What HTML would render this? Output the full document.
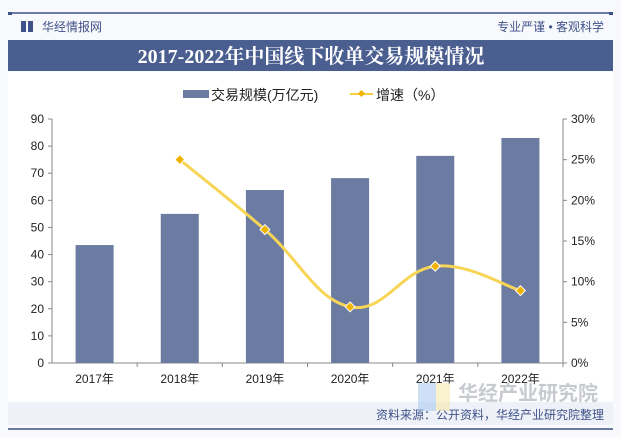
<!DOCTYPE html>
<html><head><meta charset="utf-8"><style>
body{margin:0;width:621px;height:437px;overflow:hidden;background:#fff;font-family:"Liberation Sans","Noto Sans CJK SC",sans-serif;}
</style></head><body>
<svg width="621" height="437" viewBox="0 0 621 437" xmlns="http://www.w3.org/2000/svg" font-family="Liberation Sans, Noto Sans CJK SC, sans-serif">
<rect x="0" y="0" width="621" height="437" fill="#f8f9fc"/>
<line x1="8" y1="13" x2="613" y2="13" stroke="#3f5189" stroke-width="1.5"/>
<rect x="8" y="12" width="4" height="3" fill="#3f5189"/><rect x="609" y="12" width="4" height="3" fill="#3f5189"/>
<g><rect x="21" y="21" width="5" height="11" fill="#3f5189"/><rect x="28" y="21" width="5" height="11" fill="#3f5189"/></g>
<text x="42" y="31" font-size="12" fill="#3f5189">华经情报网</text>
<text x="604" y="31" font-size="12" fill="#3f5189" text-anchor="end">专业严谨 • 客观科学</text>
<rect x="8" y="40" width="605" height="31" fill="#4a5e8f"/>
<text x="311" y="63" font-size="20" font-weight="bold" fill="#fff" text-anchor="middle" font-family="Liberation Serif, Noto Serif CJK SC, serif">2017-2022年中国线下收单交易规模情况</text>
<rect x="8" y="72" width="605" height="330" fill="#fff"/>
<g>
<rect x="183" y="90" width="26" height="8" fill="#6b7ba1"/>
<text x="211" y="100" font-size="14" fill="#222">交易规模(万亿元)</text>
<line x1="350" y1="94" x2="373" y2="94" stroke="#f5cf3e" stroke-width="2"/>
<rect x="359" y="91" width="5" height="5" fill="#f0b400" transform="rotate(45 361.5 93.5)"/>
<text x="376" y="100" font-size="14" fill="#222">增速（%）</text>
</g>
<g id="chart"></g>
<rect x="8" y="402" width="605" height="23" fill="#eef1f7"/>
<text x="604" y="419" font-size="12" fill="#3f5189" text-anchor="end">资料来源：公开资料，华经产业研究院整理</text>
<line x1="8" y1="429" x2="613" y2="429" stroke="#3f5189" stroke-width="1.5"/>
<g opacity="0.55">
<rect x="418" y="383" width="18" height="28" fill="#a9c8f0"/><rect x="436" y="383" width="14" height="28" fill="#f7e9a8"/>
<text x="458" y="400" font-size="20" font-weight="bold" fill="#9aa0a8">华经产业研究院</text>
</g>
</svg>
<script>
const categories=["2017年","2018年","2019年","2020年","2021年","2022年"];
const scaleValues=[43.5,55,63.8,68.2,76.4,83];
const growthValues=[null,25,16.4,6.9,11.9,8.9];
const leftTicks=[0,10,20,30,40,50,60,70,80,90];
const rightTicks=["0%","5%","10%","15%","20%","25%","30%"];
const NS="http://www.w3.org/2000/svg";
const g=document.getElementById("chart");
const X0=52,X1=563,Y0=363,Y1=119;
const band=(X1-X0)/categories.length;
const xc=i=>X0+band*(i+0.5);
const yL=v=>Y0-(v/90)*(Y0-Y1);
const yR=v=>Y0-(v/30)*(Y0-Y1);
function mk(t,a){const e=document.createElementNS(NS,t);for(const k in a)e.setAttribute(k,a[k]);g.appendChild(e);return e;}
let e;
e=mk("line",{x1:X0,y1:Y1,x2:X0,y2:Y0,stroke:"#888"});


e=mk("line",{x1:X1,y1:Y1,x2:X1,y2:Y0,stroke:"#888"});


e=mk("line",{x1:X0,y1:Y0,x2:X1,y2:Y0,stroke:"#888"});


leftTicks.forEach(v=>{const y=yL(v);
mk("line",{x1:X0-4,y1:y,x2:X0,y2:y,stroke:"#888"});
e=mk("text",{x:X0-8,y:y+4,"font-size":12,fill:"#222","text-anchor":"end"});e.textContent=v;

});
rightTicks.forEach((t,i)=>{const y=yR(i*5);
mk("line",{x1:X1,y1:y,x2:X1+4,y2:y,stroke:"#888"});
e=mk("text",{x:X1+8,y:y+4,"font-size":12,fill:"#222"});e.textContent=t;

});
categories.forEach((c,i)=>{
mk("line",{x1:X0+band*(i+1),y1:Y0,x2:X0+band*(i+1),y2:Y0+4,stroke:"#888"});
e=mk("text",{x:xc(i),y:Y0+20,"font-size":12,fill:"#222","text-anchor":"middle"});e.textContent=c;


const y=yL(scaleValues[i]);
e=mk("rect",{x:xc(i)-19,y:y,width:38,height:Y0-y,fill:"#6b7ba1"});

});
const pts=[];growthValues.forEach((v,i)=>{if(v!=null)pts.push([xc(i),yR(v)]);});
let d="M"+pts[0][0]+","+pts[0][1];
for(let i=0;i<pts.length-1;i++){const p0=pts[i-1]||pts[i],p1=pts[i],p2=pts[i+1],p3=pts[i+2]||p2;
const t=0.2;d+=" C"+(p1[0]+(p2[0]-p0[0])*t)+","+(p1[1]+(p2[1]-p0[1])*t)+" "+(p2[0]-(p3[0]-p1[0])*t)+","+(p2[1]-(p3[1]-p1[1])*t)+" "+p2[0]+","+p2[1];}
e=mk("path",{d:d,fill:"none",stroke:"#f7d556",
"stroke-width":3});


pts.forEach(p=>{e=mk("rect",{x:p[0]-3.5,y:p[1]-3.5,width:7,height:7,fill:"#f0b400",stroke:"#fff","stroke-width":1,transform:"rotate(45 "+p[0]+" "+p[1]+")"});

});
</script>
</body></html>
